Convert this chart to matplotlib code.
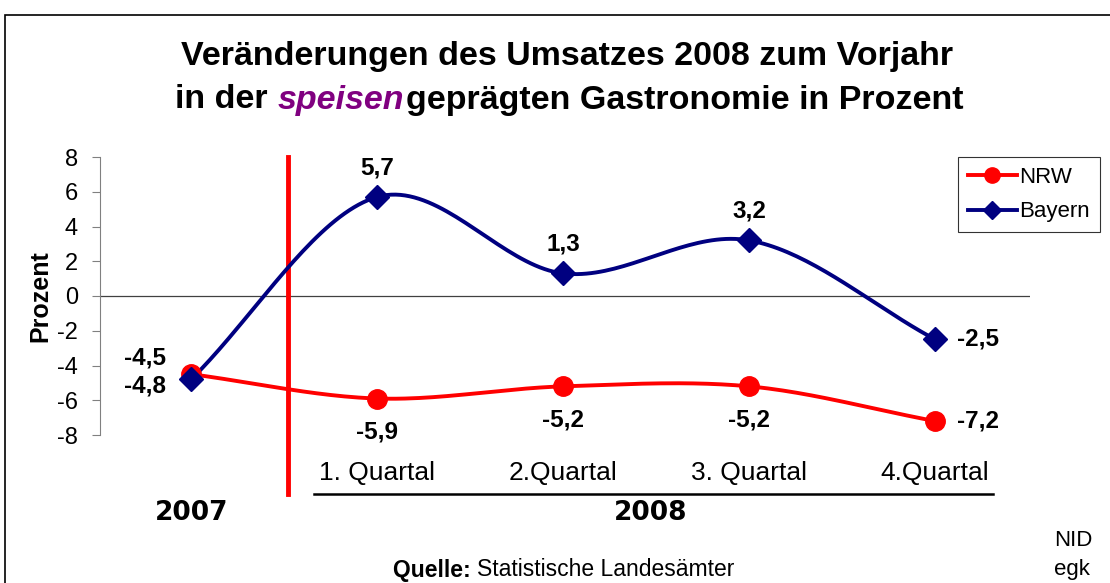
import numpy as np
import matplotlib
matplotlib.use("Agg")
import matplotlib.pyplot as plt
from matplotlib.patches import Rectangle
from matplotlib.lines import Line2D

plt.rcParams['font.family'] = ['Liberation Sans', 'DejaVu Sans']

categories = ["", "1. Quartal", "2.Quartal", "3. Quartal", "4.Quartal"]
nrw = [-4.5, -5.9, -5.2, -5.2, -7.2]
bayern = [-4.8, 5.7, 1.3, 3.2, -2.5]
nrw_labels = ["-4,5", "-5,9", "-5,2", "-5,2", "-7,2"]
bayern_labels = ["-4,8", "5,7", "1,3", "3,2", "-2,5"]
yticks = [8, 6, 4, 2, 0, -2, -4, -6, -8]

RED = "#FF0000"
NAVY = "#000080"


def smooth(xs, ys, n=40):
    xs = np.asarray(xs, float)
    ys = np.asarray(ys, float)
    px = np.concatenate([[2 * xs[0] - xs[1]], xs, [2 * xs[-1] - xs[-2]]])
    py = np.concatenate([[2 * ys[0] - ys[1]], ys, [2 * ys[-1] - ys[-2]]])
    ox, oy = [], []
    for i in range(1, len(px) - 2):
        t = np.linspace(0, 1, n, endpoint=(i == len(px) - 3))
        p0, p1, p2, p3 = (np.array([px[j], py[j]]) for j in (i - 1, i, i + 1, i + 2))
        t2, t3 = t * t, t * t * t
        pts = 0.5 * ((2 * p1)[:, None] + (-p0 + p2)[:, None] * t
                     + (2 * p0 - 5 * p1 + 4 * p2 - p3)[:, None] * t2
                     + (-p0 + 3 * p1 - 3 * p2 + p3)[:, None] * t3)
        ox.extend(pts[0])
        oy.extend(pts[1])
    return np.array(ox), np.array(oy)


fig = plt.figure(figsize=(11.1, 5.83), dpi=100)
ax = fig.add_axes([100 / 1110, 1 - 435 / 583, 930 / 1110, 278 / 583])

x = np.arange(len(categories))

sx, sy = smooth(x, nrw)
ax.plot(sx, sy, color=RED, lw=2.8, zorder=3, clip_on=False)
ax.plot(x, nrw, 'o', color=RED, ms=14, zorder=4, clip_on=False)
sx, sy = smooth(x, bayern)
ax.plot(sx, sy, color=NAVY, lw=2.8, zorder=3, clip_on=False)
ax.plot(x, bayern, 'D', color=NAVY, ms=12, zorder=5, clip_on=False)

ax.set_xlim(-0.49, 4.51)
ax.set_ylim(-8, 8)
ax.set_yticks(yticks)
ax.set_yticklabels([str(v) for v in yticks], fontsize=17)
ax.tick_params(axis='y', direction='out', length=6, color='#808080', pad=10)
ax.set_xticks([])
for s in ['top', 'right', 'bottom']:
    ax.spines[s].set_visible(False)
ax.spines['left'].set_color('#808080')
ax.axhline(0, color='#404040', lw=0.9, zorder=1)
ax.set_ylabel("Prozent", fontsize=18, fontweight='bold', labelpad=3)

# red separator line
ax.plot([0.52, 0.52], [8, -11.4], color=RED, lw=3.5, clip_on=False, zorder=2)

# data labels
fs = 17.5
ax.annotate(nrw_labels[0], (x[0], nrw[0]), xytext=(-33, 12), textcoords='offset points',
            ha='center', va='center', fontsize=fs, fontweight='bold')
ax.annotate(bayern_labels[0], (x[0], bayern[0]), xytext=(-33, -5), textcoords='offset points',
            ha='center', va='center', fontsize=fs, fontweight='bold')
for i in range(1, 4):
    ax.annotate(nrw_labels[i], (x[i], nrw[i]), xytext=(0, -24), textcoords='offset points',
                ha='center', va='center', fontsize=fs, fontweight='bold')
    ax.annotate(bayern_labels[i], (x[i], bayern[i]), xytext=(0, 21), textcoords='offset points',
                ha='center', va='center', fontsize=fs, fontweight='bold')
ax.annotate(nrw_labels[4], (x[4], nrw[4]), xytext=(31, 0), textcoords='offset points',
            ha='center', va='center', fontsize=fs, fontweight='bold')
ax.annotate(bayern_labels[4], (x[4], bayern[4]), xytext=(31, 0), textcoords='offset points',
            ha='center', va='center', fontsize=fs, fontweight='bold')

# category labels
for i in range(1, 5):
    ax.text(x[i], -10.2, categories[i], ha='center', va='center', fontsize=19)
ax.plot([0.66, 4.31], [-11.4, -11.4], color='black', lw=1.8, clip_on=False)
ax.text(0, -12.5, "2007", ha='center', va='center', fontsize=19, fontweight='bold',
        family='DejaVu Sans')
ax.text(2.47, -12.5, "2008", ha='center', va='center', fontsize=19, fontweight='bold',
        family='DejaVu Sans')

# legend
h1 = Line2D([], [], color=RED, lw=2.8, marker='o', ms=11)
h2 = Line2D([], [], color=NAVY, lw=2.8, marker='D', ms=9)
leg = fig.legend([h1, h2], ["NRW", "Bayern"], loc='upper left',
                 bbox_to_anchor=(958 / 1110, 1 - 157 / 583), fontsize=16,
                 frameon=True, fancybox=False, edgecolor='black', handlelength=2.2,
                 borderpad=0.45, labelspacing=0.6, handletextpad=0.1, borderaxespad=0,
                 handleheight=0.7)
leg.get_frame().set_linewidth(0.8)

# title
TFS = 24.5
fig.text(0.511, 1 - 57 / 583, "Veränderungen des Umsatzes 2008 zum Vorjahr",
         ha='center', va='center', fontsize=TFS, fontweight='bold')
t1 = fig.text(175 / 1110, 1 - 100 / 583, "in der ", ha='left', va='center',
              fontsize=TFS, fontweight='bold')
fig.canvas.draw()
r = fig.canvas.get_renderer()
bb = t1.get_window_extent(r)
t2 = fig.text(bb.x1 / 1110, 1 - 100 / 583, "speisen", ha='left', va='center',
              fontsize=TFS, fontweight='bold', style='italic', color='#800080')
bb2 = t2.get_window_extent(r)
fig.text(bb2.x1 / 1110 + 0.002, 1 - 100 / 583, "geprägten Gastronomie in Prozent",
         ha='left', va='center', fontsize=TFS, fontweight='bold')

# footer
q = fig.text(393 / 1110, 1 - 570 / 583, "Quelle: ", ha='left', va='center',
             fontsize=16.5, fontweight='bold')
bq = q.get_window_extent(r)
fig.text(bq.x1 / 1110, 1 - 570 / 583, "Statistische Landesämter", ha='left',
         va='center', fontsize=16.5)
fig.text(1054 / 1110, 1 - 540 / 583, "NID", ha='left', va='center', fontsize=16)
fig.text(1054 / 1110, 1 - 570 / 583, "egk", ha='left', va='center', fontsize=16)

# outer frame
fig.patches.append(Rectangle((5 / 1110, -0.1), 1.2, 1 - 15 / 583 + 0.1,
                             transform=fig.transFigure, fill=False,
                             edgecolor='black', lw=1.2))

fig.savefig("out.png", dpi=100)
